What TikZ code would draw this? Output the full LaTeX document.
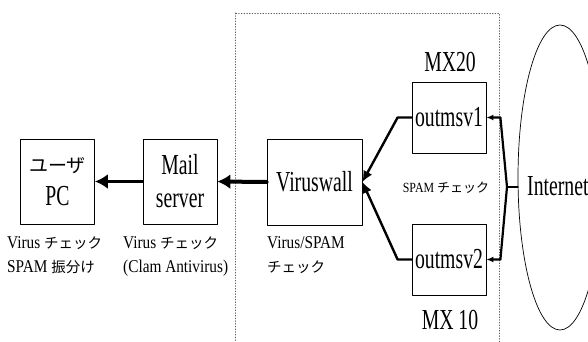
\documentclass[tikz,border=0pt]{standalone}
\usepackage{fontspec}
\setmainfont{Liberation Serif}[FakeStretch=0.85]
\newfontfamily\cond{Liberation Serif}[FakeStretch=0.68]
\newfontfamily\jp{Noto Sans CJK JP}
\usetikzlibrary{arrows.meta,positioning,shapes.geometric}
\newcommand\jps[1]{{\jp\fontsize{14.5}{24}\selectfont #1}}
\tikzset{
	srv/.style={draw, line width=0.8pt, minimum width=74pt, minimum height=85pt,
		align=center, inner sep=1pt, font=\cond\fontsize{29}{33}\selectfont},
	big/.style={inner sep=0pt, font=\cond\fontsize{29}{33}\selectfont},
	note/.style={anchor=north west, align=left, inner sep=0pt,
		font=\fontsize{18}{24}\selectfont},
	bigarr/.style={line width=3pt, -{Latex[length=13pt,width=15pt]}},
	midarr/.style={line width=2.4pt, line join=round, -{Latex[length=11pt,width=10pt]}},
	smallarr/.style={line width=2.2pt, line join=round, -{Latex[length=7pt,width=6pt]}}
}
\begin{document}
\begin{tikzpicture}[x=1pt, y=-1pt, line join=round, line cap=round]
	\clip (0,0) rectangle (588,342);
	\draw[dotted, gray!70!black, line width=0.7pt] (235,13) rectangle (499,360);
	\node[draw, ellipse, line width=0.7pt, minimum width=84pt, minimum height=305pt] (net) at (560,177.5) {};
	\node[big, anchor=west] (inet) at (527,186) {Internet};
	
	\node[srv] (pc) at (57.5,181.5) {{\jp\fontsize{19}{33}\selectfont ユーザ}\\PC};
	\node[srv] (ms) at (180,181.5) {Mail\\server};
	\node[srv, minimum width=95pt, minimum height=86pt] (vw) at (314.5,182) {Viruswall};
	\node[srv, minimum height=71pt] (o1) at (449,117.5) {outmsv1};
	\node[srv, minimum height=71pt] (o2) at (449,259.5) {outmsv2};
	
	\node[big] (mx20) at (450,62) {MX20};
	\node[big] (mx10) at (450,320) {MX 10};
	\node[inner sep=0pt, font=\fontsize{14}{18}\selectfont] (spam) at (446,188) {SPAM {\jp\fontsize{13}{18}\selectfont チェック}};
	
	\node[note] (pcnote) at (7,236) {Virus \jps{チェック}\\SPAM \jps{振分け}};
	\node[note] (msnote) at (123,236) {Virus \jps{チェック}\\(Clam Antivirus)};
	\node[note] (vwnote) at (267,236) {Virus/SPAM\\\jps{チェック}};
	
	\coordinate (jn) at (507,187);
	\draw[line width=2.4pt] (net.west |- jn) -- (jn);
	\draw[smallarr] (jn) -- ([xshift=14pt]o1.east) -- (o1.east);
	\draw[smallarr] (jn) -- ([xshift=14pt]o2.east) -- (o2.east);
	\draw[midarr] (o1.west) -- ++(-14,0) -- (vw.east);
	\draw[midarr] (o2.west) -- ++(-14,0) -- (vw.east);
	\draw[bigarr, line width=4pt] (vw.west) -- (ms.east);
	\draw[bigarr] (ms.west) -- (pc.east);
\end{tikzpicture}
\end{document}
